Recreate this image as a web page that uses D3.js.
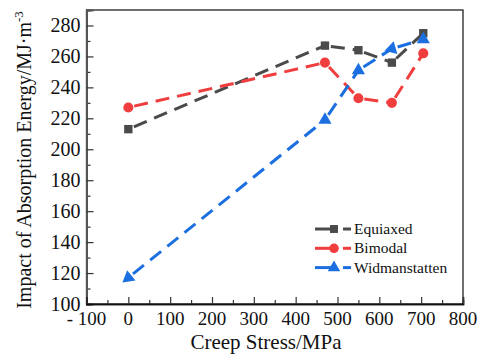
<!DOCTYPE html>
<html>
<head>
<meta charset="utf-8">
<script src="https://cdn.jsdelivr.net/npm/d3@7"></script>
<style>
  body { margin: 0; background: #fff; }
</style>
</head>
<body>
<div id="chart"></div>
<script>
// data
const stress = [0, 470, 550, 630, 705];
const equiaxed = [213, 267, 264, 256, 275];
const bimodal = [227, 256, 233, 230, 262];
const widmanstatten = [117, 219, 251, 265, 271];
const seriesNames = ["Equiaxed", "Bimodal", "Widmanstatten"];
const xTicks = [-100, 0, 100, 200, 300, 400, 500, 600, 700, 800];
const yTicks = [100, 120, 140, 160, 180, 200, 220, 240, 260, 280];

var width = 484, height = 354;
var margin = { top: 10, right: 21, bottom: 50, left: 86.5 };
var serif = "Liberation Serif";

var svg = d3.select("#chart").append("svg")
    .attr("width", width)
    .attr("height", height);

var x = d3.scaleLinear().domain([-100, 800]).range([margin.left, width - margin.right]);
var y = d3.scaleLinear().domain([100, 290]).range([height - margin.bottom, margin.top]);

var colors = ["#4a4a4a", "#f03e3e", "#1c6fe0"];
var symbols = [d3.symbolSquare, d3.symbolCircle, d3.symbolTriangle];
var symSizes = [70, 80, 75];

// frame
svg.append("rect")
    .attr("x", x.range()[0]).attr("y", y.range()[1])
    .attr("width", x.range()[1] - x.range()[0])
    .attr("height", y.range()[0] - y.range()[1])
    .attr("fill", "none").attr("stroke", "#222").attr("stroke-width", 1.3);

// y axis, ticks inward
var yAxis = svg.append("g").attr("transform", "translate(" + x.range()[0] + ",0)");
yAxis.call(d3.axisRight(y).tickValues(d3.range(110, 291, 20)).tickSize(4).tickFormat(""));
yAxis.call(g => g.append("g").call(d3.axisRight(y).tickValues(yTicks).tickSize(7).tickFormat("")));
yAxis.selectAll("line").attr("stroke", "#333").attr("stroke-width", 1.2);
yAxis.selectAll(".domain").attr("stroke", "#555").attr("stroke-width", 2);
svg.append("g").selectAll("text").data(yTicks).join("text")
    .attr("x", x.range()[0] - 6)
    .attr("y", d => y(d) + 6.5)
    .attr("text-anchor", "end")
    .attr("font-family", serif)
    .attr("font-size", 20)
    .attr("fill", "#111")
    .text(d => d);

// x axis, ticks inward
var xAxis = svg.append("g").attr("transform", "translate(0," + y.range()[0] + ")");
xAxis.call(d3.axisTop(x).tickValues(d3.range(-50, 800, 100)).tickSize(4).tickFormat(""));
xAxis.call(g => g.append("g").call(d3.axisTop(x).tickValues(xTicks).tickSize(7).tickFormat("")));
xAxis.selectAll("line").attr("stroke", "#333").attr("stroke-width", 1.2);
xAxis.selectAll(".domain").attr("stroke", "#111").attr("stroke-width", 1.5);
svg.append("g").selectAll("text").data(xTicks).join("text")
    .attr("x", d => x(d))
    .attr("y", y.range()[0] + 21)
    .attr("text-anchor", "middle")
    .attr("font-family", serif)
    .attr("font-size", 19)
    .attr("fill", "#111")
    .text(d => d < 0 ? "- " + Math.abs(d) : d);

// axis titles
svg.append("text")
    .attr("x", 266).attr("y", 349)
    .attr("text-anchor", "middle")
    .attr("font-family", serif)
    .attr("font-size", 21)
    .attr("fill", "#111")
    .text("Creep Stress/MPa");

var yTitle = svg.append("text")
    .attr("transform", "translate(31,160) rotate(-90)")
    .attr("text-anchor", "middle")
    .attr("font-family", serif)
    .attr("font-size", 20)
    .attr("fill", "#111");
yTitle.append("tspan").text("Impact of Absorption Energy/MJ·m");
yTitle.append("tspan").attr("dy", -8).attr("font-size", 13).text("-3");

// series
var allSeries = [equiaxed, bimodal, widmanstatten];
var line = d3.line().x(d => x(d[0])).y(d => y(d[1]));

// in the original, two of the triangles are drawn as arrow heads along the line
var arrowIdx = [0, 3];

allSeries.forEach(function (vals, i) {
    var pts = stress.map((s, j) => [s, vals[j]]);
    var g = svg.append("g");
    // each segment drawn on its own so it starts with a dash
    d3.pairs(pts).forEach(function (p) {
        g.append("path")
            .attr("d", line(p))
            .attr("fill", "none")
            .attr("stroke", colors[i])
            .attr("stroke-width", 3)
            .attr("stroke-dasharray", "14,8")
            .attr("stroke-dashoffset", -6);
    });
    g.selectAll("path.pt").data(pts).join("path")
        .attr("class", "pt")
        .attr("transform", function (d, j) {
            var t = "translate(" + x(d[0]) + "," + y(d[1]) + ")";
            if (i == 2 && arrowIdx.includes(j)) {
                var n = pts[j + 1];
                var ang = Math.atan2(y(d[1]) - y(n[1]), x(d[0]) - x(n[0])) * 180 / Math.PI + 90;
                t += " rotate(" + ang + ")";
            }
            return t;
        })
        .attr("d", d3.symbol().type(symbols[i]).size(symSizes[i]))
        .attr("fill", colors[i]);
});

// legend
var legend = svg.append("g").attr("transform", "translate(315,229)");
seriesNames.forEach(function (name, i) {
    var row = legend.append("g").attr("transform", "translate(0," + (i * 19.3) + ")");
    row.append("line").attr("x1", 0).attr("x2", 19).attr("stroke", colors[i]).attr("stroke-width", 3);
    row.append("line").attr("x1", 28).attr("x2", 36).attr("stroke", colors[i]).attr("stroke-width", 3);
    row.append("path")
        .attr("transform", "translate(19,0)")
        .attr("d", d3.symbol().type(symbols[i]).size(symSizes[i] * 0.9))
        .attr("fill", colors[i]);
    row.append("text")
        .attr("x", 39).attr("y", 5)
        .attr("font-family", serif)
        .attr("font-size", 15.5)
        .attr("fill", "#111")
        .text(name);
});
</script>
</body>
</html>
